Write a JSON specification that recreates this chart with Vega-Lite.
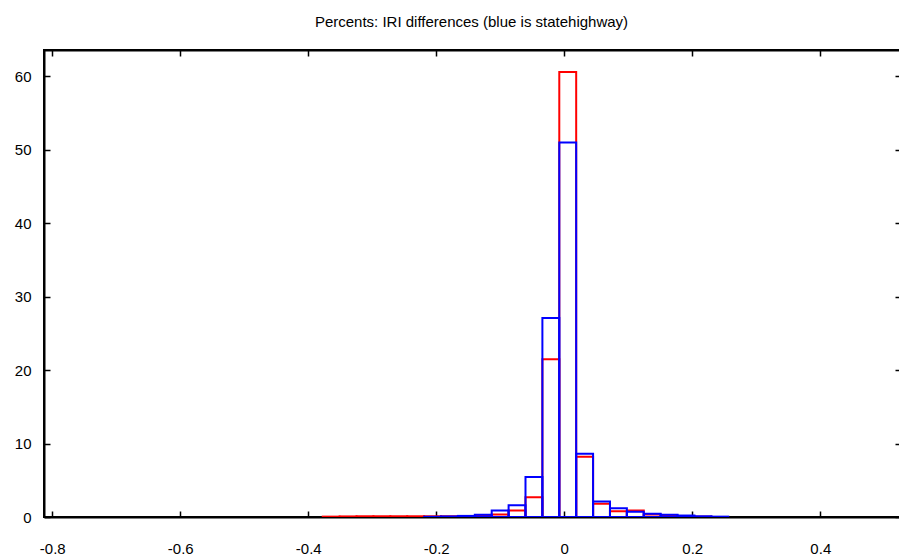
{
  "$schema": "https://vega.github.io/schema/vega-lite/v6.json",
  "width": 857,
  "height": 467,
  "autosize": {"type": "none"},
  "padding": {"left": 44, "top": 50, "right": 0, "bottom": 41},
  "background": "white",
  "title": {
    "text": "Percents: IRI differences (blue is statehighway)",
    "font": "Liberation Sans",
    "fontSize": 15,
    "fontWeight": "normal",
    "color": "#000000",
    "anchor": "middle",
    "dx": -1,
    "offset": 19
  },
  "config": {
    "view": {"stroke": "#000000", "strokeWidth": 2},
    "axis": {
      "grid": false,
      "domainColor": "#000000",
      "domainWidth": 2,
      "tickColor": "#000000",
      "tickWidth": 1.5,
      "tickSize": -6,
      "labelFont": "Liberation Sans",
      "labelFontSize": 15,
      "labelColor": "#000000",
      "title": null
    }
  },
  "data": {
    "values": [
      {"series": "red", "x0": -0.3774, "x1": -0.3510, "v": 0.05},
      {"series": "red", "x0": -0.3510, "x1": -0.3246, "v": 0.08},
      {"series": "red", "x0": -0.3246, "x1": -0.2982, "v": 0.1},
      {"series": "red", "x0": -0.2982, "x1": -0.2718, "v": 0.1},
      {"series": "red", "x0": -0.2718, "x1": -0.2454, "v": 0.1},
      {"series": "red", "x0": -0.2454, "x1": -0.2190, "v": 0.1},
      {"series": "red", "x0": -0.2190, "x1": -0.1926, "v": 0.1},
      {"series": "red", "x0": -0.1926, "x1": -0.1662, "v": 0.1},
      {"series": "red", "x0": -0.1662, "x1": -0.1398, "v": 0.1},
      {"series": "red", "x0": -0.1398, "x1": -0.1134, "v": 0.15},
      {"series": "red", "x0": -0.1134, "x1": -0.0870, "v": 0.35},
      {"series": "red", "x0": -0.0870, "x1": -0.0606, "v": 0.9},
      {"series": "red", "x0": -0.0606, "x1": -0.0342, "v": 2.7},
      {"series": "red", "x0": -0.0342, "x1": -0.0078, "v": 21.5},
      {"series": "red", "x0": -0.0078, "x1": 0.0186, "v": 60.6},
      {"series": "red", "x0": 0.0186, "x1": 0.0450, "v": 8.2},
      {"series": "red", "x0": 0.0450, "x1": 0.0714, "v": 1.8},
      {"series": "red", "x0": 0.0714, "x1": 0.0978, "v": 0.8},
      {"series": "red", "x0": 0.0978, "x1": 0.1242, "v": 0.9},
      {"series": "red", "x0": 0.1242, "x1": 0.1506, "v": 0.35},
      {"series": "red", "x0": 0.1506, "x1": 0.1770, "v": 0.2},
      {"series": "red", "x0": 0.1770, "x1": 0.2034, "v": 0.1},
      {"series": "red", "x0": 0.2034, "x1": 0.2298, "v": 0.05},
      {"series": "blue", "x0": -0.2190, "x1": -0.1926, "v": 0.03},
      {"series": "blue", "x0": -0.1926, "x1": -0.1662, "v": 0.08},
      {"series": "blue", "x0": -0.1662, "x1": -0.1398, "v": 0.15},
      {"series": "blue", "x0": -0.1398, "x1": -0.1134, "v": 0.3},
      {"series": "blue", "x0": -0.1134, "x1": -0.0870, "v": 0.9},
      {"series": "blue", "x0": -0.0870, "x1": -0.0606, "v": 1.6},
      {"series": "blue", "x0": -0.0606, "x1": -0.0342, "v": 5.45},
      {"series": "blue", "x0": -0.0342, "x1": -0.0078, "v": 27.1},
      {"series": "blue", "x0": -0.0078, "x1": 0.0186, "v": 51.0},
      {"series": "blue", "x0": 0.0186, "x1": 0.0450, "v": 8.6},
      {"series": "blue", "x0": 0.0450, "x1": 0.0714, "v": 2.1},
      {"series": "blue", "x0": 0.0714, "x1": 0.0978, "v": 1.2},
      {"series": "blue", "x0": 0.0978, "x1": 0.1242, "v": 0.7},
      {"series": "blue", "x0": 0.1242, "x1": 0.1506, "v": 0.45},
      {"series": "blue", "x0": 0.1506, "x1": 0.1770, "v": 0.3},
      {"series": "blue", "x0": 0.1770, "x1": 0.2034, "v": 0.2},
      {"series": "blue", "x0": 0.2034, "x1": 0.2298, "v": 0.1},
      {"series": "blue", "x0": 0.2298, "x1": 0.2562, "v": 0.05}
    ]
  },
  "resolve": {"axis": {"x": "independent", "y": "independent"}},
  "layer": [
    {
      "mark": {"type": "rect", "fill": null, "strokeWidth": 2, "clip": true},
      "encoding": {
        "x": {
          "field": "x0",
          "type": "quantitative",
          "scale": {"domain": [-0.8129, 0.5261], "nice": false, "zero": false},
          "axis": {
            "values": [-0.8, -0.6, -0.4, -0.2, 0, 0.2, 0.4],
            "labelExpr": "datum.value == 0 ? '0' : (datum.value < 0 ? '-' + format(-datum.value, '.1f') : format(datum.value, '.1f'))",
            "labelPadding": 30
          }
        },
        "x2": {"field": "x1"},
        "y": {
          "field": "v",
          "type": "quantitative",
          "scale": {"domain": [0, 63.6], "nice": false},
          "axis": {
            "values": [0, 10, 20, 30, 40, 50, 60],
            "labelPadding": 19
          }
        },
        "y2": {"datum": 0},
        "stroke": {
          "field": "series",
          "type": "nominal",
          "scale": {"domain": ["red", "blue"], "range": ["#ff0000", "#0000ff"]},
          "legend": null
        },
        "order": {"field": "series", "sort": "descending"}
      }
    },
    {
      "mark": {"type": "rect", "opacity": 0},
      "encoding": {
        "x": {
          "field": "x0",
          "type": "quantitative",
          "axis": {
            "orient": "top",
            "values": [-0.8, -0.6, -0.4, -0.2, 0, 0.2, 0.4],
            "labels": false
          }
        },
        "x2": {"field": "x1"},
        "y": {
          "field": "v",
          "type": "quantitative",
          "axis": {
            "orient": "right",
            "values": [0, 10, 20, 30, 40, 50, 60],
            "labels": false
          }
        },
        "y2": {"datum": 0}
      }
    }
  ]
}
